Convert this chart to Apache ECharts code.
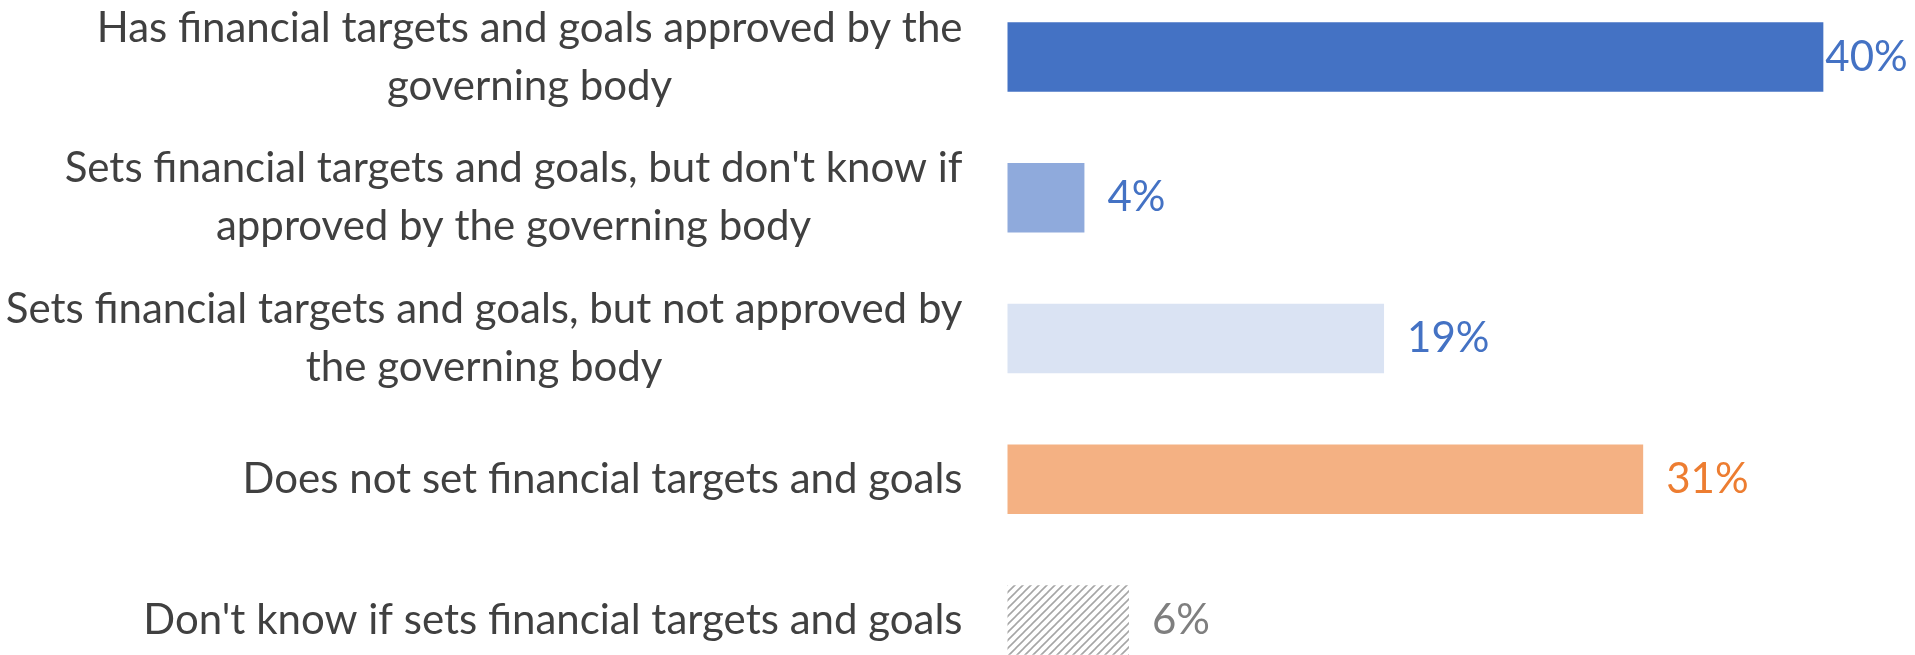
<!DOCTYPE html>
<html>
<head>
<meta charset="utf-8">
<script src="https://cdn.jsdelivr.net/npm/echarts@6/dist/echarts.min.js"></script>
<style>
html,body{margin:0;padding:0;background:#fff;}
#chart{width:1915px;height:655px;}
</style>
</head>
<body>
<div id="chart"></div>
<script>
// ---- data ----
const categories = [
  "Has financial targets and goals approved by the\ngoverning body",
  "Sets financial targets and goals, but don't know if\napproved by the governing body",
  "Sets financial targets and goals, but not approved by\nthe governing body",
  "Does not set financial targets and goals",
  "Don't know if sets financial targets and goals"
];
const values = [40.3, 3.8, 18.6, 31.4, 6.0];

// ---- styles ----
const barColors = ["#4472C4", "#8FAADC", "#DAE3F3", "#F4B183", null];
const labelColors = ["#4472C4", "#4472C4", "#4472C4", "#ED7D31", "#7F7F7F"];
const FONT = "Lato, 'Liberation Sans', sans-serif";
const FS = 42;

// hatch pattern for the last bar
function hatch() {
  const c = document.createElement('canvas');
  c.width = 8; c.height = 8;
  const g = c.getContext('2d');
  g.fillStyle = '#ffffff';
  g.fillRect(0, 0, 8, 8);
  g.strokeStyle = '#A6A6A6';
  g.lineWidth = 1.6;
  g.beginPath();
  g.moveTo(-1, 9); g.lineTo(9, -1);
  g.moveTo(-1, 1); g.lineTo(1, -1);
  g.moveTo(7, 9); g.lineTo(9, 7);
  g.stroke();
  return c;
}
const hatchImg = hatch();

const seriesData = values.map((v, i) => ({
  value: v,
  itemStyle: { color: barColors[i] || { image: hatchImg, repeat: 'repeat' } },
  label: { color: labelColors[i], distance: i === 0 ? 2 : 23 }
}));

const chart = echarts.init(document.getElementById('chart'), null, { renderer: 'canvas' });
chart.setOption({
  animation: false,
  backgroundColor: '#ffffff',
  grid: { left: 1007.5, top: -13.4, width: 911, height: 703.75, containLabel: false, outerBoundsMode: 'none' },
  xAxis: { type: 'value', min: 0, max: 45, show: false },
  yAxis: {
    type: 'category',
    inverse: true,
    data: categories,
    axisLine: { show: false },
    axisTick: { show: false },
    splitLine: { show: false },
    axisLabel: {
      margin: 45,
      align: 'right',
      color: '#404040',
      fontFamily: FONT,
      fontSize: FS,
      lineHeight: 58,
      formatter: function (s) {
        return s.split('\n').map(l => '{c|' + l + '}').join('\n');
      },
      rich: {
        c: { align: 'center', color: '#404040', fontFamily: FONT, fontSize: FS, lineHeight: 58 }
      }
    }
  },
  series: [{
    type: 'bar',
    data: seriesData,
    barWidth: '49.5%',
    label: {
      show: true,
      position: 'right',
      fontFamily: FONT,
      fontSize: FS,
      formatter: p => Math.round(p.value) + '%'
    }
  }]
});
</script>
</body>
</html>
